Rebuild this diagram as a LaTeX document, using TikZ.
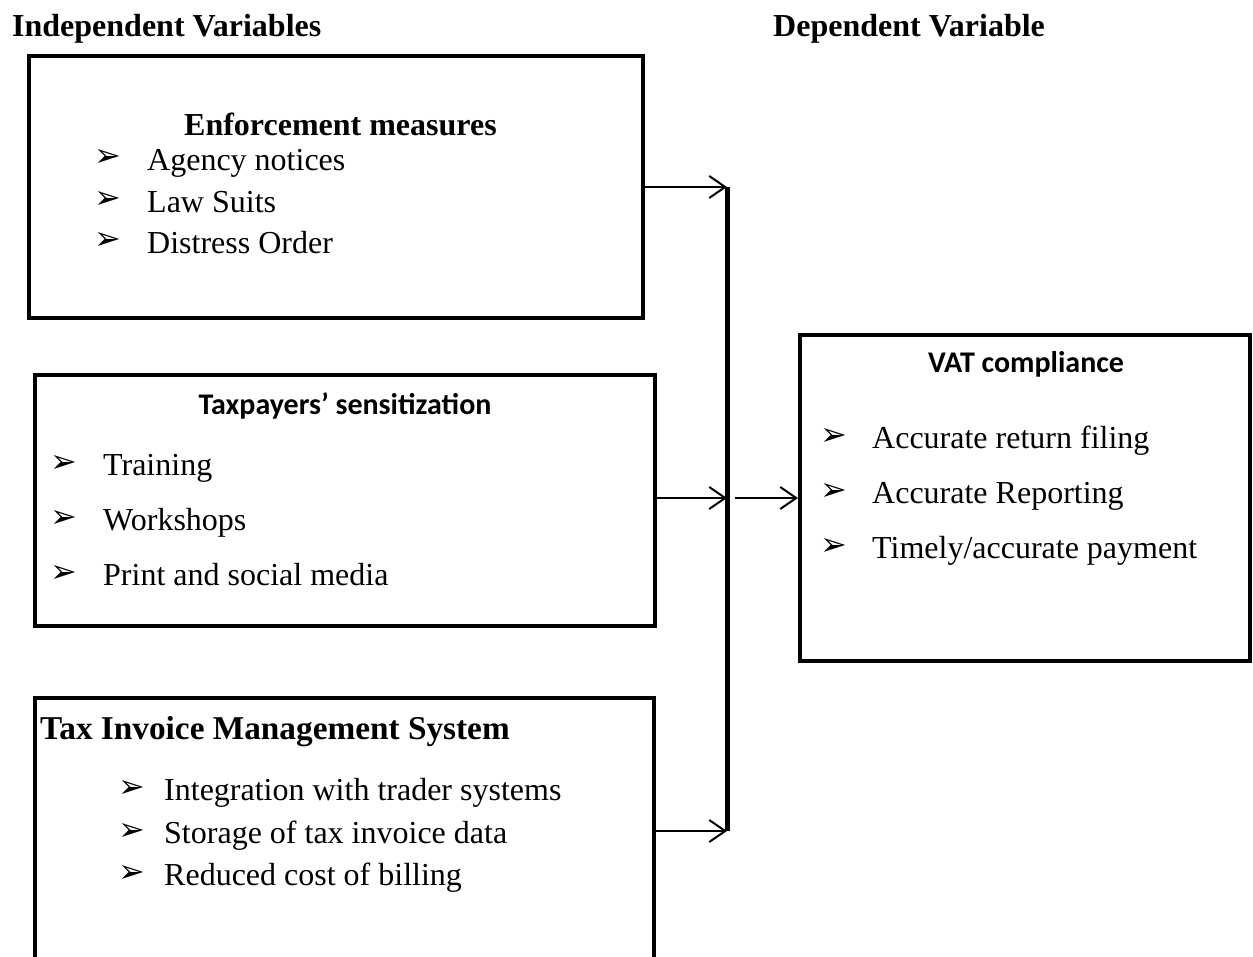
\documentclass[tikz,border=0pt]{standalone}
\usepackage{fontspec}
\setmainfont{Liberation Serif}
\newfontfamily\calfont{Carlito}
\newfontfamily\symfont{DejaVu Sans}
\usetikzlibrary{arrows.meta}
\begin{document}
\begin{tikzpicture}[x=1pt,y=-1pt,
  box/.style={draw, line width=4pt, rectangle, inner sep=0pt},
  txt/.style={anchor=base west, inner sep=0pt, font=\fontsize{32}{38}\selectfont},
  hd/.style={anchor=base west, inner sep=0pt, font=\bfseries\fontsize{32}{38}\selectfont},
  sb/.style={anchor=base, inner sep=0pt, font=\calfont\bfseries\fontsize{30}{36}\selectfont},
  bul/.style={anchor=center, inner sep=0pt, font=\symfont\fontsize{32}{38}\selectfont},
  arr/.style={-{Straight Barb[length=16pt,width=22pt]}, line width=2pt},
  bus/.style={line width=5pt},
]
\useasboundingbox (0,0) rectangle (1253,956);

% headings
\node[hd] (indep) at (12,36) {Independent Variables};
\node[hd] (dep) at (773,36) {Dependent Variable};

% boxes
\node[box, minimum width=614pt, minimum height=262pt] (b1) at (336,187) {};
\node[box, minimum width=620pt, minimum height=251pt] (b2) at (345,500.5) {};
\node[box, minimum width=619pt, minimum height=266pt] (b3) at (344.5,831) {};
\node[box, minimum width=450pt, minimum height=326pt] (vat) at (1025,498) {};

% box 1
\node[hd] (t1) at (184,135) {Enforcement measures};
\node[bul] (b1a) at (108,158) {➢};
\node[txt] (i1a) at (147,170) {Agency notices};
\node[bul] (b1b) at (108,200) {➢};
\node[txt] (i1b) at (147,212) {Law Suits};
\node[bul] (b1c) at (108,241) {➢};
\node[txt] (i1c) at (147,253) {Distress Order};

% box 2
\node[sb] (t2) at (345,414) {Taxpayers’ sensitization};
\node[bul] (b2a) at (64,464) {➢};
\node[txt] (i2a) at (103,475) {Training};
\node[bul] (b2b) at (64,519) {➢};
\node[txt] (i2b) at (103,530) {Workshops};
\node[bul] (b2c) at (64,574) {➢};
\node[txt] (i2c) at (103,585) {Print and social media};

% box 3
\node[hd, font=\bfseries\fontsize{33.3}{40}\selectfont] (t3) at (40,739) {Tax Invoice Management System};
\node[bul] (b3a) at (132,789) {➢};
\node[txt] (i3a) at (164,800) {Integration with trader systems};
\node[bul] (b3b) at (132,832) {➢};
\node[txt] (i3b) at (164,843) {Storage of tax invoice data};
\node[bul] (b3c) at (132,874) {➢};
\node[txt] (i3c) at (164,885) {Reduced cost of billing};

% VAT box
\node[sb] (t4) at (1026,372) {VAT compliance};
\node[bul] (b4a) at (834,437) {➢};
\node[txt] (i4a) at (872,448) {Accurate return filing};
\node[bul] (b4b) at (834,492) {➢};
\node[txt] (i4b) at (872,503) {Accurate Reporting};
\node[bul] (b4c) at (834,547) {➢};
\node[txt] (i4c) at (872,558) {Timely/accurate payment};

% connectors
\coordinate (busTop) at (727,187);
\coordinate (busMid) at (727,498);
\coordinate (busBot) at (727,831);
\coordinate (busOut) at (735,498);
\draw[bus] (busTop) -- (busBot);
\draw[arr] (b1.east) -- (busTop);
\draw[arr] (b2.east |- busMid) -- (busMid);
\draw[arr] (b3.east) -- (busBot);
\draw[arr] (busOut) -- (vat.west);
\end{tikzpicture}
\end{document}
